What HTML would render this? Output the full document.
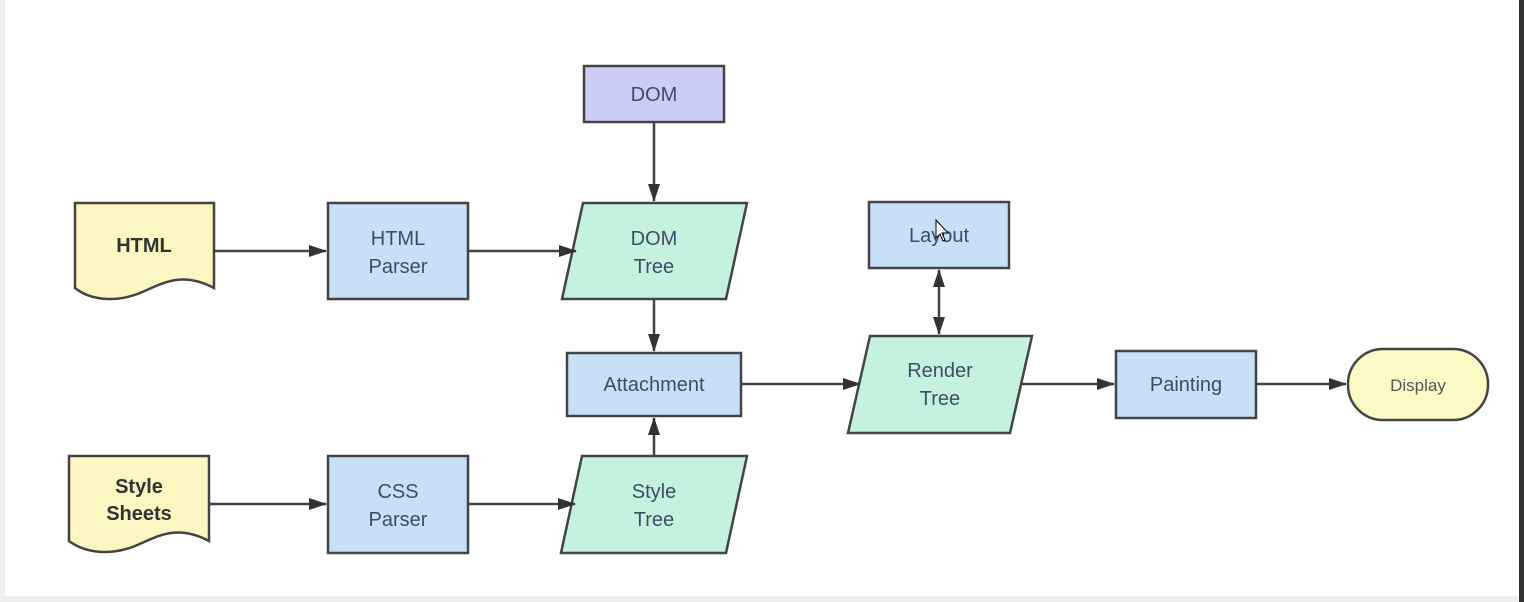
<!DOCTYPE html>
<html><head><style>
html,body{margin:0;padding:0;background:#fff;}
svg{display:block;}
text{font-family:"Liberation Sans",sans-serif;font-size:20px;fill:#3d4d68;text-anchor:middle;}
.b{font-weight:bold;fill:#333;}
</style></head><body>
<svg width="1524" height="602" viewBox="0 0 1524 602">
<defs><marker id="a" markerWidth="18" markerHeight="12" refX="17" refY="6" orient="auto" markerUnits="userSpaceOnUse"><path d="M0,0 L18,6 L0,12 z" fill="#333"/></marker>
<marker id="s" markerWidth="18" markerHeight="12" refX="1" refY="6" orient="auto" markerUnits="userSpaceOnUse"><path d="M18,0 L0,6 L18,12 z" fill="#333"/></marker></defs>
<rect x="0" y="0" width="5" height="602" fill="#f0f0f0"/>
<rect x="1519" y="0" width="5" height="602" fill="#333"/>
<rect x="0" y="596" width="1519" height="6" fill="#eee"/>
<g stroke="#444" stroke-width="2.5">
<rect x="584" y="66" width="140" height="56" fill="#ccccf8"/>
<path d="M75,203 H214 V288 C180,270 160,285 140,293 C115,303 90,300 75,288 Z" fill="#fbf6c2"/>
<rect x="328" y="203" width="140" height="96" fill="#c7e0f8"/>
<path d="M583,203 H747 L726,299 H562 Z" fill="#c4f2de"/>
<rect x="869" y="202" width="140" height="66" fill="#c7e0f8"/>
<rect x="567" y="353" width="174" height="63" fill="#c7e0f8"/>
<path d="M870,336 H1032 L1010,433 H848 Z" fill="#c4f2de"/>
<rect x="1116" y="351" width="140" height="67" fill="#c7e0f8"/>
<rect x="1348" y="349" width="140" height="71" rx="35" fill="#fdfac6"/>
<path d="M69,456 H209 V541 C175,523 155,538 135,546 C110,556 85,553 69,541 Z" fill="#fbf6c2"/>
<rect x="328" y="456" width="140" height="97" fill="#c7e0f8"/>
<path d="M582,456 H747 L726,553 H561 Z" fill="#c4f2de"/>
</g>
<g stroke="#444" stroke-width="2.5" fill="none">
<line x1="654" y1="122" x2="654" y2="201" marker-end="url(#a)"/>
<line x1="654" y1="299" x2="654" y2="351" marker-end="url(#a)"/>
<line x1="654" y1="456" x2="654" y2="418" marker-end="url(#a)"/>
<line x1="939" y1="270" x2="939" y2="334" marker-end="url(#a)" marker-start="url(#s)"/>
<line x1="214" y1="251" x2="326" y2="251" marker-end="url(#a)"/>
<line x1="468" y1="251" x2="576" y2="251" marker-end="url(#a)"/>
<line x1="209" y1="504" x2="326" y2="504" marker-end="url(#a)"/>
<line x1="468" y1="504" x2="575" y2="504" marker-end="url(#a)"/>
<line x1="741" y1="384" x2="860" y2="384" marker-end="url(#a)"/>
<line x1="1020" y1="384" x2="1114" y2="384" marker-end="url(#a)"/>
<line x1="1256" y1="384" x2="1346" y2="384" marker-end="url(#a)"/>
</g>
<text x="654" y="101">DOM</text>
<text x="144" y="252" class="b">HTML</text>
<text x="398" y="245">HTML</text><text x="398" y="273">Parser</text>
<text x="654" y="245">DOM</text><text x="654" y="273">Tree</text>
<text x="939" y="242">Layout</text>
<text x="654" y="391">Attachment</text>
<text x="940" y="377">Render</text><text x="940" y="405">Tree</text>
<text x="1186" y="391">Painting</text>
<text x="1418" y="391" style="font-size:17px;fill:#555">Display</text>
<text x="139" y="493" class="b">Style</text><text x="139" y="520" class="b">Sheets</text>
<text x="398" y="498">CSS</text><text x="398" y="526">Parser</text>
<text x="654" y="498">Style</text><text x="654" y="526">Tree</text>
<path d="M936,220 L936,238 L940,234 L943,241 L945,240 L942,233 L948,233 Z" fill="#fff" stroke="#000" stroke-width="1"/>
</svg>
</body></html>
